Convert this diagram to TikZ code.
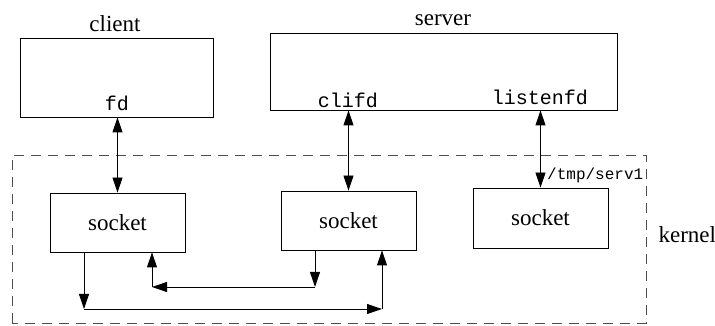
\documentclass[tikz,border=0pt]{standalone}
\usepackage{fontspec}
\setmainfont{Liberation Serif}
\setmonofont{Liberation Mono}
\usetikzlibrary{arrows.meta}
\tikzset{
  procbox/.style={draw,line width=0.9pt,inner sep=0pt},
  sockbox/.style={draw,line width=0.9pt,minimum width=135pt,minimum height=59pt,font=\fontsize{23}{27}\selectfont},
  kernelbox/.style={draw=black!70,line width=0.9pt,dash pattern=on 10pt off 7pt},
  conn/.style={line width=0.9pt,-{Triangle[length=15pt,width=10pt]}},
  bconn/.style={line width=0.9pt,{Triangle[length=15pt,width=10pt]}-{Triangle[length=15pt,width=10pt]}},
  lbl/.style={font=\fontsize{23}{27}\selectfont},
  fdlbl/.style={font=\fontsize{20}{24}\selectfont\ttfamily}
}
\begin{document}
\begin{tikzpicture}[x=1pt,y=1pt]
\useasboundingbox (0,0) rectangle (715,326);
\draw[kernelbox] (12,3) rectangle (646,171);
\node[lbl,anchor=west] (kern) at (655,91) {kernel};

\node[procbox,minimum width=193pt,minimum height=79pt] (client) at (116.5,248.5) {};
\node[lbl] (clientlbl) at (115,302) {client};
\node[fdlbl] (fd) at (117,223) {fd};

\node[procbox,minimum width=347pt,minimum height=77pt] (server) at (443.5,254.5) {};
\node[lbl] (serverlbl) at (443,306) {server};
\node[fdlbl] (clifd) at (348,226) {clifd};
\node[fdlbl] (listenfd) at (540,229) {listenfd};

\node[sockbox] (s1) at (117.5,103.5) {socket};
\node[sockbox] (s2) at (348.5,105.5) {socket};
\node[sockbox,minimum height=60pt] (s3) at (540.5,108) {socket};
\node[font=\fontsize{16}{19}\selectfont\ttfamily,anchor=west,inner sep=1pt] (path) at (546,151) {/tmp/serv1};

\draw[bconn] (s1.north |- client.south) -- (s1.north);
\draw[bconn] (s2.north |- server.south) -- (s2.north);
\draw[bconn] (s3.north |- server.south) -- (s3.north);

\coordinate (a1) at (84,17);
\coordinate (a2) at (382,17);
\draw[conn] (s1.south -| a1) -- (a1);
\draw[conn] (a1) -- (a2);
\draw[conn] (a2) -- (s2.south -| a2);

\coordinate (b1) at (315,39);
\coordinate (b2) at (152,39);
\draw[conn] (s2.south -| b1) -- (b1);
\draw[conn] (b1) -- (b2);
\draw[conn] (b2) -- (s1.south -| b2);
\end{tikzpicture}
\end{document}
